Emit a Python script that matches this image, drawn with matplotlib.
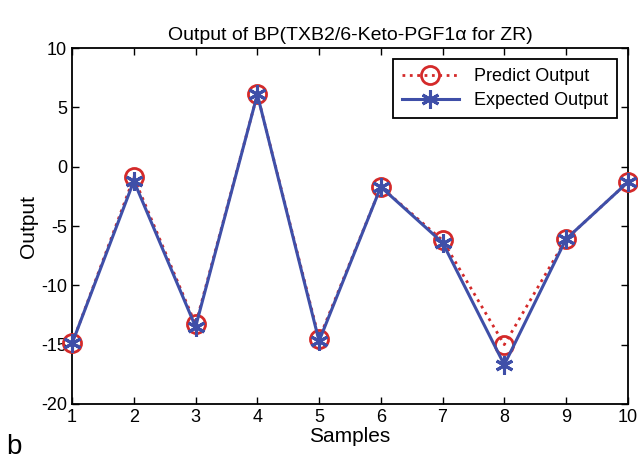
import matplotlib.pyplot as plt

plt.rcParams['font.family'] = ['Liberation Sans', 'DejaVu Sans']
plt.rcParams['axes.unicode_minus'] = False

# дані
samples = [1, 2, 3, 4, 5, 6, 7, 8, 9, 10]
predict = [-14.9, -0.9, -13.3, 6.1, -14.5, -1.7, -6.2, -15.0, -6.1, -1.3]
expected = [-14.9, -1.2, -13.5, 6.1, -14.7, -1.7, -6.4, -16.7, -6.1, -1.3]
y_ticks = [-20, -15, -10, -5, 0, 5, 10]

fig = plt.figure(figsize=(6.38, 4.59), dpi=100)
ax = fig.add_axes([0.113, 0.120, 0.871, 0.775])

ax.plot(samples, predict, ':', color='#d42a2a', linewidth=2,
        marker='o', markersize=13, markerfacecolor='none',
        markeredgewidth=2, label='Predict Output', clip_on=False, zorder=3)
ax.plot(samples, expected, '-', color='#3f4fa8', linewidth=2.2,
        marker=(6, 2, 0), markersize=13, markeredgewidth=2.2,
        label='Expected Output', clip_on=False, zorder=4)

ax.set_xlim(1, 10)
ax.set_ylim(-20, 10)
ax.set_xticks(samples)
ax.set_yticks(y_ticks)
ax.tick_params(direction='in', top=True, right=True, labelsize=13,
               length=5, width=1)
for s in ax.spines.values():
    s.set_linewidth(1.3)

ax.set_xlabel('Samples', fontsize=15, labelpad=1)
ax.set_ylabel('Output', fontsize=15, labelpad=2)
ax.set_title('Output of BP(TXB2/6-Keto-PGF1α for ZR)', fontsize=14, pad=6)

leg = ax.legend(loc='upper right', fontsize=13, fancybox=False,
                edgecolor='black', framealpha=1, borderaxespad=0.6,
                handlelength=3.2, borderpad=0.5, labelspacing=0.4)
leg.get_frame().set_linewidth(1.3)

fig.text(0.01, 0.01, 'b', fontsize=20)

fig.savefig('out.png', dpi=100)
